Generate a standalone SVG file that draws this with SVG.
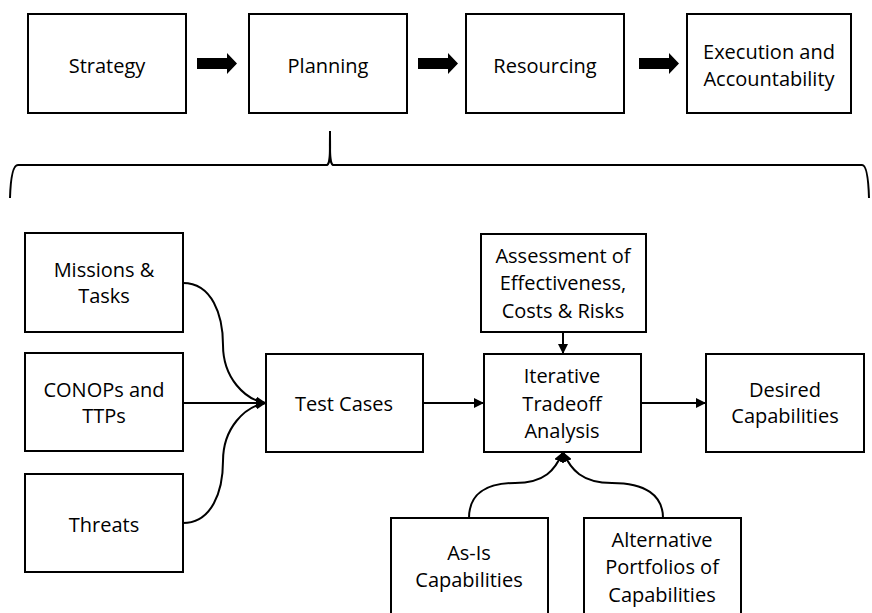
<svg xmlns="http://www.w3.org/2000/svg" width="872" height="613" viewBox="0 0 872 613">
<defs>
<style>
.box{fill:#fff;stroke:#000;stroke-width:2}
.t{font-family:"Open Sans","Liberation Sans",sans-serif;font-size:20px;fill:#000;text-anchor:middle}
.c{fill:none;stroke:#000;stroke-width:2}
.big{fill:#000}
</style>
<marker id="ah" viewBox="0 0 10 10" refX="10" refY="5" markerWidth="10" markerHeight="10" markerUnits="userSpaceOnUse" orient="auto">
<path d="M0,0 L10,5 L0,10 z" fill="#000"/>
</marker>
</defs>
<g id="strategy"><rect class="box" x="28" y="14" width="158" height="99"/><text class="t" x="107" y="73">Strategy</text></g>
<g id="planning"><rect class="box" x="249" y="14" width="158" height="99"/><text class="t" x="328" y="73">Planning</text></g>
<g id="resourcing"><rect class="box" x="466" y="14" width="158" height="99"/><text class="t" x="545" y="73">Resourcing</text></g>
<g id="execution"><rect class="box" x="687" y="14" width="164" height="99"/><text class="t" x="769" y="59">Execution and</text><text class="t" x="769" y="86">Accountability</text></g>
<g id="missions"><rect class="box" x="25" y="233" width="158" height="99"/><text class="t" x="104" y="277">Missions &amp;</text><text class="t" x="104" y="303">Tasks</text></g>
<g id="conops"><rect class="box" x="25" y="353" width="158" height="98"/><text class="t" x="104" y="397">CONOPs and</text><text class="t" x="104" y="423">TTPs</text></g>
<g id="threats"><rect class="box" x="25" y="474" width="158" height="98"/><text class="t" x="104" y="532">Threats</text></g>
<g id="testcases"><rect class="box" x="266" y="354" width="157" height="98"/><text class="t" x="344" y="411">Test Cases</text></g>
<g id="assessment"><rect class="box" x="481" y="234" width="165" height="98"/><text class="t" x="563" y="263">Assessment of</text><text class="t" x="563" y="290">Effectiveness,</text><text class="t" x="563" y="318">Costs &amp; Risks</text></g>
<g id="iterative"><rect class="box" x="484" y="354" width="157" height="98"/><text class="t" x="562" y="383">Iterative</text><text class="t" x="562" y="411">Tradeoff</text><text class="t" x="562" y="438">Analysis</text></g>
<g id="desired"><rect class="box" x="706" y="354" width="158" height="98"/><text class="t" x="785" y="397">Desired</text><text class="t" x="785" y="423">Capabilities</text></g>
<g id="asis"><rect class="box" x="391" y="518" width="157" height="100"/><text class="t" x="469" y="560">As-Is</text><text class="t" x="469" y="587">Capabilities</text></g>
<g id="alternative"><rect class="box" x="584" y="518" width="157" height="100"/><text class="t" x="662" y="547">Alternative</text><text class="t" x="662" y="574">Portfolios of</text><text class="t" x="662" y="602">Capabilities</text></g>
<g id="connectors">
<path class="big" d="M197,58 H227 V53 L237,63.5 L227,74 V69 H197 z"/>
<path class="big" d="M418,58 H448 V53 L458,63.5 L448,74 V69 H418 z"/>
<path class="big" d="M639,58 H669 V53 L679,63.5 L669,74 V69 H639 z"/>
<path class="c" d="M330,131 C330,150 331,163 327,165 H18 Q11,165 10,198"/>
<path class="c" d="M330,131 C330,150 329,163 333,165 H862 Q868,165 869,198"/>
<path class="c" marker-end="url(#ah)" d="M183,283 C212,283 223,315 223,345 C223,378 245,400 266,403"/>
<path class="c" marker-end="url(#ah)" d="M183,403 H266"/>
<path class="c" marker-end="url(#ah)" d="M183,523 C212,523 223,491 223,461 C223,428 245,406 266,403"/>
<path class="c" marker-end="url(#ah)" d="M423,403 H484"/>
<path class="c" marker-end="url(#ah)" d="M641,403 H706"/>
<path class="c" marker-end="url(#ah)" d="M563,332 V354"/>
<path class="c" marker-end="url(#ah)" d="M469,518 C469,495 485,483 515,483 C545,483 555,470 563,452"/>
<path class="c" marker-end="url(#ah)" d="M663,518 C663,495 645,483 612,483 C582,483 571,470 563,452"/>
</g>
</svg>
